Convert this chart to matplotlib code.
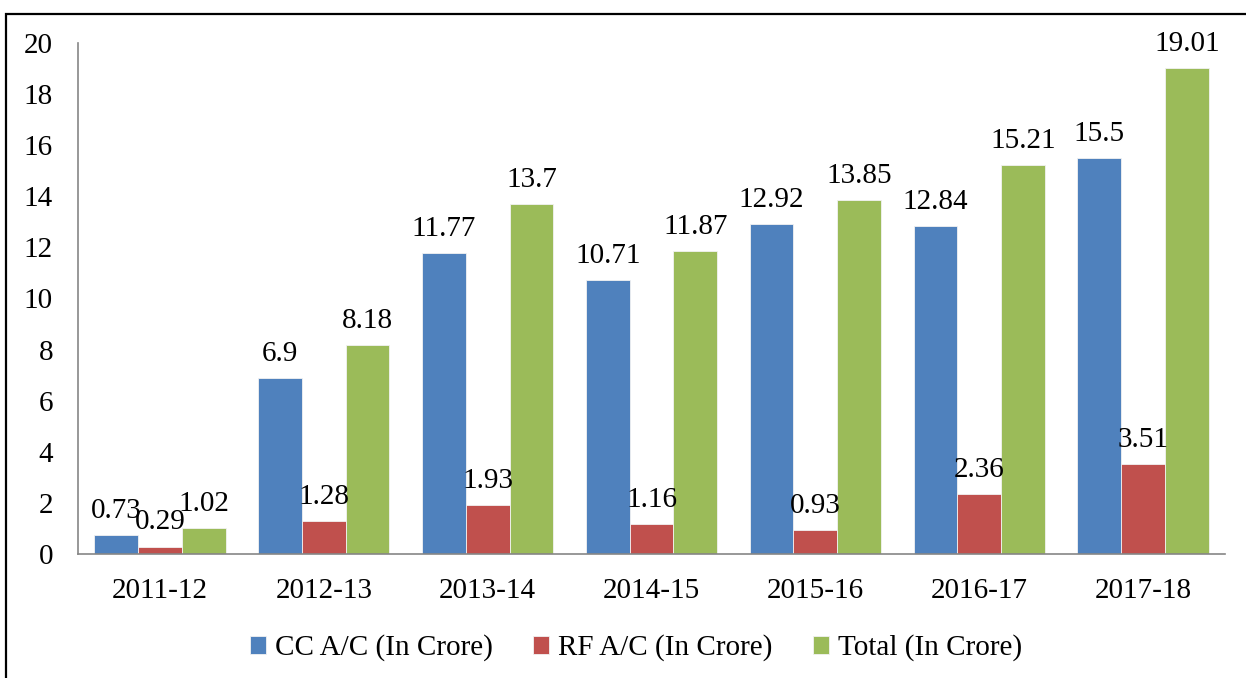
import matplotlib.pyplot as plt
import numpy as np
from matplotlib.patches import Rectangle

years = ['2011-12', '2012-13', '2013-14', '2014-15', '2015-16', '2016-17', '2017-18']
cc_ac = [0.73, 6.9, 11.77, 10.71, 12.92, 12.84, 15.5]
rf_ac = [0.29, 1.28, 1.93, 1.16, 0.93, 2.36, 3.51]
total = [1.02, 8.18, 13.7, 11.87, 13.85, 15.21, 19.01]

series = [
    ('CC A/C (In Crore)', cc_ac, '#4F81BD'),
    ('RF A/C (In Crore)', rf_ac, '#C0504D'),
    ('Total (In Crore)', total, '#9BBB59'),
]

plt.rcParams['font.family'] = ['Liberation Serif', 'DejaVu Serif']
fs = 21

fig = plt.figure(figsize=(12.46, 6.78), dpi=100)
ax = fig.add_axes([78 / 1246, 1 - 554 / 678, (1225 - 78) / 1246, (554 - 43) / 678])

x = np.arange(len(years))
w = 0.267
for i, (name, vals, color) in enumerate(series):
    pos = x + (i - 1) * w
    ax.bar(pos, vals, w, color=color, edgecolor='#F2F2F2', linewidth=0.6, label=name)
    for xx, v in zip(pos, vals):
        ax.annotate(f'{v:g}', (xx, v), xytext=(0, 8), textcoords='offset points',
                    ha='center', va='bottom', fontsize=fs)

ax.set_xlim(-0.5, len(years) - 0.5)
ax.set_ylim(0, 20)
ax.set_yticks(range(0, 21, 2))
ax.set_xticks(x)
ax.set_xticklabels(years)
ax.tick_params(axis='both', length=0, labelsize=fs)
ax.tick_params(axis='y', pad=18)
ax.tick_params(axis='x', pad=17)
for s in ['top', 'right']:
    ax.spines[s].set_visible(False)
for s in ['left', 'bottom']:
    ax.spines[s].set_color('#868686')
    ax.spines[s].set_linewidth(1.2)

fig.legend(loc='center', bbox_to_anchor=(636 / 1246, 1 - 648 / 678), ncol=3, frameon=False,
           fontsize=fs, handlelength=0.55, handleheight=0.55, handletextpad=0.3,
           columnspacing=1.4)

fig.patches.append(Rectangle((6 / 1246, -0.05), 1.1, 1 - 14 / 678 + 0.05,
                             transform=fig.transFigure, fill=False,
                             edgecolor='black', linewidth=1.6))

fig.savefig('out.png', dpi=100)
